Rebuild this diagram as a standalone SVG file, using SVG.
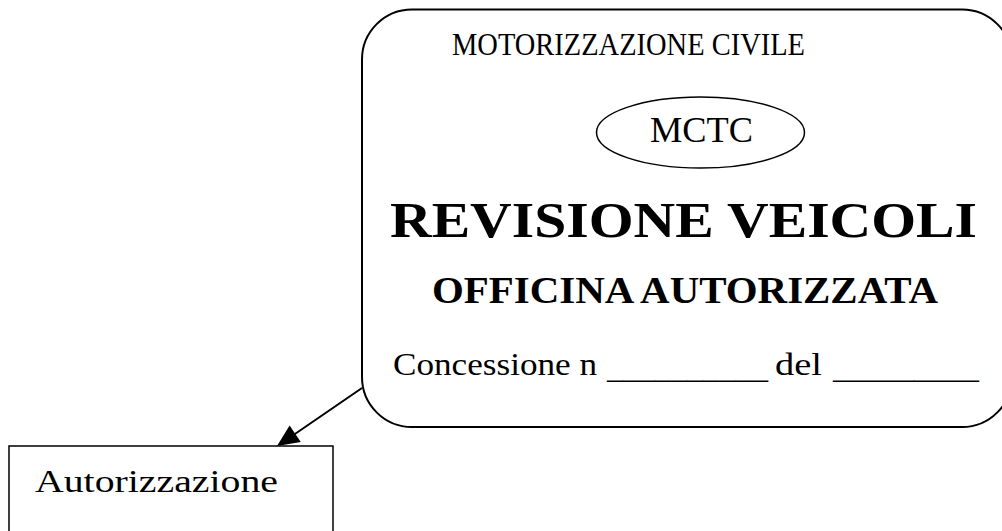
<svg xmlns="http://www.w3.org/2000/svg" width="1002" height="531" viewBox="0 0 1002 531">
<style>
.t{font-family:"Liberation Serif","Times New Roman",serif;fill:#000}
.b{font-weight:bold}
.shape{fill:#fff;stroke:#000}
</style>
<rect width="1002" height="531" fill="#fff"/>
<g id="connectors">
<line x1="362" y1="388" x2="292" y2="436" stroke="#000" stroke-width="2"/>
<polygon points="277,446 300.8,441.9 289.6,425.4" fill="#000"/>
</g>
<g id="node-mctc">
<rect class="shape" x="362" y="9.5" width="650" height="417.5" rx="50" ry="50" stroke-width="2"/>
<text class="t" x="452" y="55" font-size="32" textLength="353" lengthAdjust="spacingAndGlyphs">MOTORIZZAZIONE CIVILE</text>
<ellipse class="shape" cx="700.5" cy="132.5" rx="104" ry="35.5" stroke-width="1.5"/>
<text class="t" x="650" y="142" font-size="35" textLength="103" lengthAdjust="spacingAndGlyphs">MCTC</text>
<text class="t b" x="390" y="237" font-size="50" textLength="587" lengthAdjust="spacingAndGlyphs">REVISIONE VEICOLI</text>
<text class="t b" x="432" y="303" font-size="37" textLength="506" lengthAdjust="spacingAndGlyphs">OFFICINA AUTORIZZATA</text>
<text class="t" x="393" y="375" font-size="32" textLength="204" lengthAdjust="spacingAndGlyphs">Concessione n</text>
<text class="t" x="607" y="378" font-size="32" textLength="161" lengthAdjust="spacingAndGlyphs">__________</text>
<text class="t" x="775" y="375" font-size="32" textLength="47" lengthAdjust="spacingAndGlyphs">del</text>
<text class="t" x="833" y="378" font-size="32" textLength="146" lengthAdjust="spacingAndGlyphs">_________</text>
</g>
<g id="node-autorizzazione">
<rect class="shape" x="9" y="446" width="324" height="110" stroke-width="1.5"/>
<text class="t" x="35" y="492" font-size="32" textLength="243" lengthAdjust="spacingAndGlyphs">Autorizzazione</text>
</g>
</svg>
